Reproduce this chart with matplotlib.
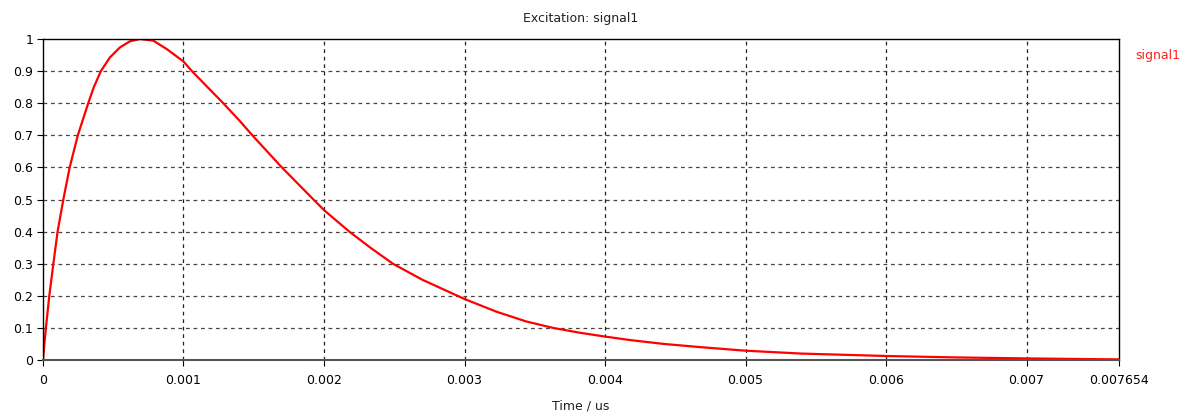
import matplotlib

matplotlib.use("Agg")
import matplotlib.pyplot as plt

# values (time in us, amplitude normalised)
time_us = [
    0.0, 0.000010, 0.000021, 0.000045, 0.000074, 0.000104, 0.000145, 0.000190,
    0.000248, 0.000322, 0.000362, 0.000412, 0.000477, 0.000548,
    0.000619, 0.000690, 0.000785, 0.000880, 0.001000, 0.001060, 0.001160,
    0.001283, 0.001402, 0.001490, 0.001700, 0.001925, 0.002000, 0.002180,
    0.002330, 0.002490, 0.002700, 0.002950, 0.003000, 0.003230, 0.003440,
    0.003630, 0.003820, 0.004000, 0.004180, 0.004420, 0.004680, 0.005000,
    0.005400, 0.006000, 0.006500, 0.007000, 0.007400, 0.007654,
]
signal1 = [
    0.0, 0.05, 0.10, 0.20, 0.30, 0.40, 0.50, 0.60,
    0.70, 0.80, 0.85, 0.90, 0.943, 0.974,
    0.993, 1.0, 0.995, 0.969, 0.93, 0.90, 0.855,
    0.80, 0.744, 0.70, 0.60, 0.50, 0.467, 0.40,
    0.35, 0.30, 0.25, 0.20, 0.19, 0.15, 0.12,
    0.10, 0.085, 0.073, 0.062, 0.05, 0.04, 0.029,
    0.02, 0.0125, 0.008, 0.005, 0.003, 0.002,
]
x_ticks = [0, 0.001, 0.002, 0.003, 0.004, 0.005, 0.006, 0.007, 0.007654]
x_labels = ["0", "0.001", "0.002", "0.003", "0.004", "0.005", "0.006", "0.007", "0.007654"]
y_ticks = [0, 0.1, 0.2, 0.3, 0.4, 0.5, 0.6, 0.7, 0.8, 0.9, 1]
y_labels = ["0", "0.1", "0.2", "0.3", "0.4", "0.5", "0.6", "0.7", "0.8", "0.9", "1"]

plt.rcParams["font.family"] = ["DejaVu Sans"]

fig = plt.figure(figsize=(11.87, 4.16), dpi=100)
ax = fig.add_axes([0.0362, 0.1346, 0.9061, 0.7716])

ax.plot(time_us, signal1, color="#ff0000", lw=1.6)

ax.set_xlim(0, x_ticks[-1])
ax.set_ylim(0, 1)
ax.set_xticks(x_ticks)
ax.set_xticklabels(x_labels)
ax.set_yticks(y_ticks)
ax.set_yticklabels(y_labels)
ax.tick_params(axis="both", labelsize=9, length=4, width=0.8, color="black", direction="out")
ax.tick_params(axis="x", pad=6)
ax.tick_params(axis="y", pad=3)

# dashed grid, but not on the border lines
for t in x_ticks[1:-1]:
    ax.axvline(t, color="#222222", lw=0.9, ls=(0, (3, 3)), zorder=0)
for v in y_ticks[1:-1]:
    ax.axhline(v, color="#444444", lw=0.9, ls=(0, (3, 3)), zorder=0)

for side in ["top", "left", "right"]:
    ax.spines[side].set_color("black")
    ax.spines[side].set_linewidth(1.0)
ax.spines["bottom"].set_color("#555555")
ax.spines["bottom"].set_linewidth(1.5)

ax.set_title("Excitation: signal1", fontsize=9, color="#222222", pad=12)
ax.set_xlabel("Time / us", fontsize=9, color="#222222", labelpad=9)

fig.text(1135 / 1187, 1 - 55 / 416, "signal1", color="#ff2020", fontsize=9, va="center", ha="left")

fig.savefig("out.png", dpi=100)
